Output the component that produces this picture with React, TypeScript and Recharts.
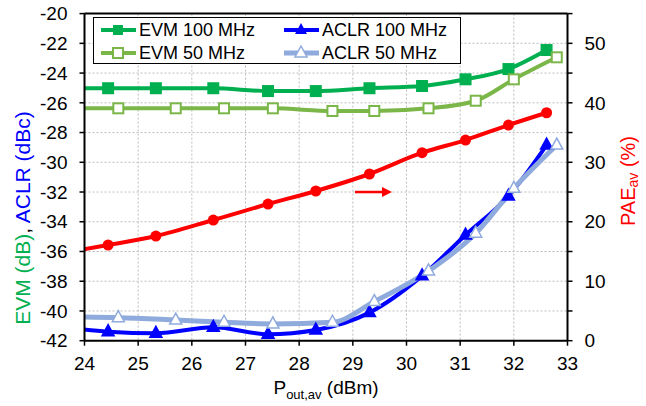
import React from 'react';
import { LineChart, Line, XAxis, YAxis, CartesianGrid, Legend, ReferenceLine } from 'recharts';

// x positions (dBm); the first entry of each list lies just left of the visible range
const x100 = [23.5, 24.44, 25.33, 26.4, 27.42, 28.31, 29.31, 30.29, 31.1, 31.9, 32.61];
const x50 = [23.7, 24.63, 25.7, 26.6, 27.51, 28.62, 29.4, 30.41, 31.29, 32.0, 32.8];

const evm100 = [-25.02, -25.02, -25.02, -25.02, -25.21, -25.21, -25.02, -24.87, -24.42, -23.73, -22.45];
const evm50 = [-26.37, -26.37, -26.37, -26.37, -26.37, -26.55, -26.55, -26.37, -25.86, -24.42, -22.94];
const aclr100 = [-41.05, -41.39, -41.5, -41.1, -41.57, -41.28, -40.11, -37.64, -34.89, -32.27, -28.84];
const aclr50 = [-40.4, -40.45, -40.61, -40.76, -40.87, -40.76, -39.37, -37.31, -34.77, -31.75, -28.84];
const pae = [14.6, 16.09, 17.6, 20.29, 22.98, 25.17, 28.03, 31.61, 33.74, 36.26, 38.33];

const xTicks = [24, 25, 26, 27, 28, 29, 30, 31, 32, 33];
const leftTicks = [-42, -40, -38, -36, -34, -32, -30, -28, -26, -24, -22, -20];
const rightTicks = [0, 5, 10, 15, 20, 25, 30, 35, 40, 45, 50, 55];

// annotation arrow (data coordinates on left axis)
const arrowX = [29.04, 29.73];
const arrowY = -32.0;

const C_EVM100 = '#00B050';
const C_EVM50 = '#7AB648';
const C_ACLR100 = '#0000FF';
const C_ACLR50 = '#8FAADC';
const C_PAE = '#FF0000';
const FONT = '"Liberation Sans", Arial, sans-serif';

const mk = (xs: number[], ys: number[]) => xs.map((x, i) => ({ x, y: ys[i] }));

const squareDot = (fill: string, stroke: string) => (p: any) => {
  const { cx, cy, index } = p;
  if (cx == null || cy == null) return <g key={index} />;
  return <rect key={index} x={cx - 5} y={cy - 5} width={10} height={10} fill={fill} stroke={stroke} strokeWidth={2} />;
};
const triDot = (fill: string, stroke: string) => (p: any) => {
  const { cx, cy, index } = p;
  if (cx == null || cy == null) return <g key={index} />;
  return (
    <polygon key={index} points={`${cx},${cy - 7} ${cx - 6},${cy + 4} ${cx + 6},${cy + 4}`} fill={fill} stroke={stroke} strokeWidth={1.5} />
  );
};
const circleDot = (fill: string) => (p: any) => {
  const { cx, cy, index } = p;
  if (cx == null || cy == null) return <g key={index} />;
  return <circle key={index} cx={cx} cy={cy} r={5.5} fill={fill} />;
};

const legendEntries = [
  { name: 'EVM 100 MHz', color: C_EVM100, kind: 'sqf', col: 0, row: 0, w: 4 },
  { name: 'ACLR 100 MHz', color: C_ACLR100, kind: 'trf', col: 1, row: 0, w: 4 },
  { name: 'EVM 50 MHz', color: C_EVM50, kind: 'sqo', col: 0, row: 1, w: 4 },
  { name: 'ACLR 50 MHz', color: C_ACLR50, kind: 'tro', col: 1, row: 1, w: 5 },
];

const LegendBox = () => (
  <div
    style={{
      position: 'relative',
      width: 368,
      height: 47,
      border: '1.5px solid #000',
      background: '#fff',
      boxSizing: 'border-box',
      fontFamily: FONT,
      fontSize: 18,
    }}
  >
    {legendEntries.map((e) => {
      const left = e.col === 0 ? 7 : 190;
      const top = e.row === 0 ? 3 : 26;
      let marker: React.ReactNode = null;
      if (e.kind === 'sqf') marker = <rect x={12} y={4} width={10} height={10} fill={e.color} />;
      if (e.kind === 'sqo') marker = <rect x={12} y={4} width={10} height={10} fill="#fff" stroke={e.color} strokeWidth={2} />;
      if (e.kind === 'trf') marker = <polygon points="17,2 11,13 23,13" fill={e.color} />;
      if (e.kind === 'tro') marker = <polygon points="17,2 11,13 23,13" fill="#fff" stroke={e.color} strokeWidth={1.5} />;
      return (
        <div key={e.name} style={{ position: 'absolute', left, top, height: 18, display: 'flex', alignItems: 'center', whiteSpace: 'nowrap' }}>
          <svg width={36} height={18} style={{ display: 'block' }}>
            <line x1={0} y1={9} x2={35} y2={9} stroke={e.color} strokeWidth={e.w} />
            {marker}
          </svg>
          <span style={{ marginLeft: 2, lineHeight: '18px', color: '#000' }}>{e.name}</span>
        </div>
      );
    })}
  </div>
);

const ArrowShape = (p: any) => {
  const { x1, y1, x2, y2 } = p;
  if (x1 == null) return <g />;
  return (
    <g>
      <line x1={x1} y1={y1} x2={x2 - 8} y2={y2} stroke={C_PAE} strokeWidth={2.5} />
      <polygon points={`${x2},${y2} ${x2 - 10},${y2 - 5} ${x2 - 10},${y2 + 5}`} fill={C_PAE} />
    </g>
  );
};

const LeftLabel = () => (
  <text x={22} y={218} transform="rotate(-90, 22, 218)" textAnchor="middle" dominantBaseline="central" fontFamily={FONT} fontSize={21}>
    <tspan fill={C_EVM100}>EVM (dB)</tspan>
    <tspan fill="#000">, </tspan>
    <tspan fill={C_ACLR100}>ACLR (dBc)</tspan>
  </text>
);
const RightLabel = () => (
  <text x={628} y={181} transform="rotate(-90, 628, 181)" textAnchor="middle" dominantBaseline="central" fontFamily={FONT} fontSize={20} fill={C_PAE}>
    <tspan>PAE</tspan>
    <tspan fontSize={14} dy={5}>av</tspan>
    <tspan dy={-5}> (%)</tspan>
  </text>
);
const BottomLabel = () => (
  <text x={326} y={394} textAnchor="middle" fontFamily={FONT} fontSize={19} fill="#000">
    <tspan>P</tspan>
    <tspan fontSize={13} dy={5}>out,av</tspan>
    <tspan dy={-5}> (dBm)</tspan>
  </text>
);

const tickStyle = { fontFamily: FONT, fontSize: 19, fill: '#000' };

export default function App() {
  return (
    <div style={{ position: 'absolute', left: 0, top: 0, width: 646, height: 406, background: '#fff' }}>
      <LineChart width={646} height={406} margin={{ top: 13.6, right: 0, bottom: 0, left: 0 }}>
        <CartesianGrid yAxisId="left" stroke="#bdbdbd" strokeDasharray="2 2" strokeWidth={1} />
        <XAxis
          type="number"
          dataKey="x"
          domain={[24, 33]}
          ticks={xTicks}
          allowDataOverflow
          height={65.3}
          tick={tickStyle}
          tickSize={5}
          tickMargin={11}
          axisLine={{ stroke: '#000', strokeWidth: 2 }}
          tickLine={{ stroke: '#000', strokeWidth: 1.5 }}
          interval={0}
          label={{ content: () => <BottomLabel /> }}
        />
        <YAxis
          yAxisId="left"
          type="number"
          domain={[-42, -20]}
          ticks={leftTicks}
          allowDataOverflow
          width={84.5}
          tick={tickStyle}
          tickSize={5}
          tickMargin={12}
          axisLine={{ stroke: '#000', strokeWidth: 2 }}
          tickLine={{ stroke: '#000', strokeWidth: 1.5 }}
          interval={0}
          label={{ content: () => <LeftLabel /> }}
        />
        <YAxis
          yAxisId="right"
          orientation="right"
          type="number"
          domain={[0, 55]}
          ticks={rightTicks}
          allowDataOverflow
          width={78.5}
          tick={tickStyle}
          tickFormatter={(v: number) => (v % 10 === 0 ? String(v) : '')}
          tickSize={5}
          tickMargin={12}
          axisLine={{ stroke: '#000', strokeWidth: 2 }}
          tickLine={{ stroke: '#000', strokeWidth: 1.5 }}
          interval={0}
          label={{ content: () => <RightLabel /> }}
        />
        <ReferenceLine yAxisId="left" y={-20} stroke="#000" strokeWidth={2} />
        <Line
          yAxisId="left"
          data={mk(x100, evm100)}
          dataKey="y"
          type="monotone"
          stroke={C_EVM100}
          strokeWidth={4}
          dot={squareDot(C_EVM100, C_EVM100)}
          isAnimationActive={false}
        />
        <Line
          yAxisId="left"
          data={mk(x100, aclr100)}
          dataKey="y"
          type="monotone"
          stroke={C_ACLR100}
          strokeWidth={4}
          dot={triDot(C_ACLR100, C_ACLR100)}
          isAnimationActive={false}
        />
        <Line
          yAxisId="left"
          data={mk(x50, evm50)}
          dataKey="y"
          type="monotone"
          stroke={C_EVM50}
          strokeWidth={4}
          dot={squareDot('#fff', C_EVM50)}
          isAnimationActive={false}
        />
        <Line
          yAxisId="left"
          data={mk(x50, aclr50)}
          dataKey="y"
          type="monotone"
          stroke={C_ACLR50}
          strokeWidth={5}
          dot={triDot('#fff', C_ACLR50)}
          isAnimationActive={false}
        />
        <Line
          yAxisId="right"
          data={mk(x100, pae)}
          dataKey="y"
          type="monotone"
          stroke={C_PAE}
          strokeWidth={4}
          dot={circleDot(C_PAE)}
          isAnimationActive={false}
        />
        <ReferenceLine
          yAxisId="left"
          segment={[
            { x: arrowX[0], y: arrowY },
            { x: arrowX[1], y: arrowY },
          ]}
          shape={ArrowShape}
        />
        <Legend
          layout="vertical"
          align="center"
          verticalAlign="middle"
          wrapperStyle={{ left: 93, top: 17, width: 368, height: 47 }}
          content={() => <LegendBox />}
        />
      </LineChart>
    </div>
  );
}
